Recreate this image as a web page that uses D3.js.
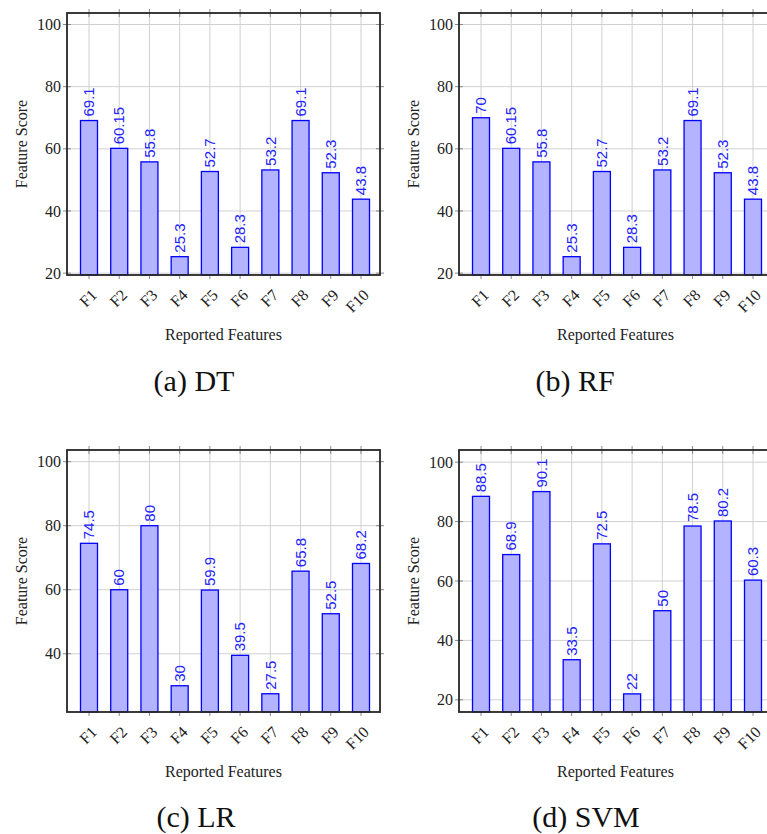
<!DOCTYPE html>
<html>
<head>
<meta charset="utf-8">
<script src="https://d3js.org/d3.v7.min.js"></script>
<style>
  body { margin: 0; background: #fff; }
</style>
</head>
<body>
<svg id="chart"></svg>
<script>
"use strict";

// data
const features = ['F1', 'F2', 'F3', 'F4', 'F5', 'F6', 'F7', 'F8', 'F9', 'F10'];
const dt_scores = [69.1, 60.15, 55.8, 25.3, 52.7, 28.3, 53.2, 69.1, 52.3, 43.8];
const rf_scores = [70, 60.15, 55.8, 25.3, 52.7, 28.3, 53.2, 69.1, 52.3, 43.8];
const lr_scores = [74.5, 60, 80, 30, 59.9, 39.5, 27.5, 65.8, 52.5, 68.2];
const svm_scores = [88.5, 68.9, 90.1, 33.5, 72.5, 22, 50, 78.5, 80.2, 60.3];
const y_ticks = [20, 40, 60, 80, 100];
const captions = ['(a) DT', '(b) RF', '(c) LR', '(d) SVM'];

// single names only, lists did not resolve here
const SERIF = 'Liberation Serif';
const SANS = 'Liberation Sans';

const SVG_WIDTH = 767;
const SVG_HEIGHT = 834;

const svg = d3.select('#chart')
    .attr('width', SVG_WIDTH)
    .attr('height', SVG_HEIGHT);

function makeGraph(spec) {
    const xScale = d3.scalePoint()
        .domain(features)
        .range([22, spec.width - 19]);
    const yScale = d3.scaleLinear()
        .domain([spec.ymin, spec.ymax])
        .range([spec.height, 0]);
    const g = svg.append('g')
        .attr('transform', `translate(${spec.x}, ${spec.y})`);
    return { xScale: xScale, yScale: yScale, g: g, spec: spec };
}

function drawPanel(graph, scores, caption) {
    const { xScale, yScale, g, spec } = graph;
    const w = spec.width, h = spec.height;
    const ticks = y_ticks.filter(t => t >= spec.ymin && t <= spec.ymax);

    // grid
    g.append('g').selectAll('line')
        .data(features)
        .join('line')
        .attr('x1', d => xScale(d)).attr('x2', d => xScale(d))
        .attr('y1', 0).attr('y2', h)
        .attr('stroke', '#d0d0d0').attr('stroke-width', 1);
    g.append('g').selectAll('line')
        .data(ticks)
        .join('line')
        .attr('x1', 0).attr('x2', w)
        .attr('y1', d => yScale(d)).attr('y2', d => yScale(d))
        .attr('stroke', '#d0d0d0').attr('stroke-width', 1);

    // tick marks sit across the frame
    for (let edge of [0, h]) {
        g.append('g').selectAll('line')
            .data(features)
            .join('line')
            .attr('x1', d => xScale(d)).attr('x2', d => xScale(d))
            .attr('y1', edge - 4).attr('y2', edge + 4)
            .attr('stroke', '#8a8a8a').attr('stroke-width', 1);
    }
    for (let edge of [0, w]) {
        g.append('g').selectAll('line')
            .data(ticks)
            .join('line')
            .attr('x1', edge - 4).attr('x2', edge + 4)
            .attr('y1', d => yScale(d)).attr('y2', d => yScale(d))
            .attr('stroke', '#8a8a8a').attr('stroke-width', 1);
    }

    // bars
    const barW = 17;
    g.append('g').selectAll('rect')
        .data(scores)
        .join('rect')
        .attr('x', (d, i) => xScale(features[i]) - barW / 2)
        .attr('y', d => yScale(d))
        .attr('width', barW)
        .attr('height', d => h - yScale(d))
        .attr('fill', '#b3b3ff')
        .attr('stroke', '#0000ff')
        .attr('stroke-width', 1.3);

    // value labels, rotated
    g.append('g').selectAll('text')
        .data(scores)
        .join('text')
        .attr('transform', (d, i) => `translate(${xScale(features[i])}, ${yScale(d) - 4}) rotate(-90)`)
        .attr('dy', '0.35em')
        .attr('text-anchor', 'start')
        .style('font-family', SANS)
        .style('font-size', '15px')
        .attr('fill', '#2222ff')
        .text(d => String(d));

    // frame
    g.append('rect')
        .attr('x', 0).attr('y', 0)
        .attr('width', w).attr('height', h)
        .attr('fill', 'none')
        .attr('stroke', '#262626')
        .attr('stroke-width', 1.8);

    // y tick labels
    g.append('g').selectAll('text')
        .data(ticks)
        .join('text')
        .attr('x', -6)
        .attr('y', d => yScale(d))
        .attr('dy', '0.35em')
        .attr('text-anchor', 'end')
        .style('font-family', SERIF)
        .style('font-size', '16px')
        .attr('fill', '#222')
        .text(d => d);

    // x tick labels
    g.append('g').selectAll('text')
        .data(features)
        .join('text')
        .attr('transform', d => `translate(${xScale(d) + 5}, ${h + 17}) rotate(-45)`)
        .attr('dy', '0.35em')
        .attr('text-anchor', 'end')
        .style('font-family', SERIF)
        .style('font-size', '16px')
        .attr('fill', '#222')
        .text(d => d);

    g.append('text')
        .attr('transform', `translate(-46, ${h / 2}) rotate(-90)`)
        .attr('dy', '0.35em')
        .attr('text-anchor', 'middle')
        .style('font-family', SERIF)
        .style('font-size', '16px')
        .attr('fill', '#222')
        .text('Feature Score');

    g.append('text')
        .attr('x', w / 2)
        .attr('y', h + 65)
        .attr('text-anchor', 'middle')
        .style('font-family', SERIF)
        .style('font-size', '16px')
        .attr('fill', '#222')
        .text('Reported Features');

    svg.append('text')
        .attr('x', spec.capX)
        .attr('y', spec.capY)
        .attr('text-anchor', 'middle')
        .style('font-family', SERIF)
        .style('font-size', '30px')
        .attr('fill', '#111')
        .text(caption);
}

function run() {
    const panels = [
        { x: 67, y: 13, width: 313, height: 262, ymin: 19.4, ymax: 103.7, capX: 194, capY: 391 },
        { x: 459, y: 13, width: 313, height: 262, ymin: 19.4, ymax: 103.7, capX: 575, capY: 391 },
        { x: 67, y: 450, width: 313, height: 262, ymin: 21.8, ymax: 103.65, capX: 196, capY: 827 },
        { x: 459, y: 450, width: 313, height: 262, ymin: 15.9, ymax: 104.1, capX: 586, capY: 827 }
    ];
    const series = [dt_scores, rf_scores, lr_scores, svm_scores];
    panels.forEach((spec, i) => {
        drawPanel(makeGraph(spec), series[i], captions[i]);
    });
}

run();
</script>
</body>
</html>
